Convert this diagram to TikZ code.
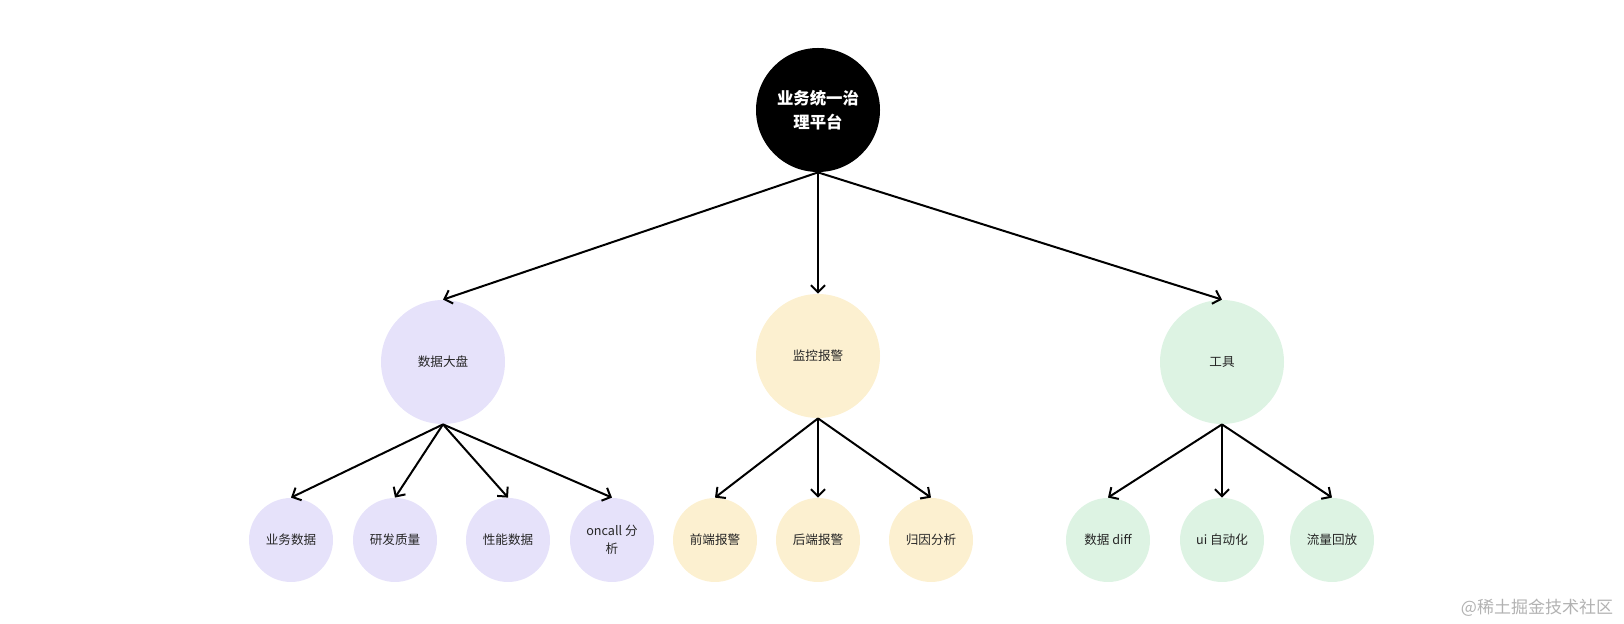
\documentclass[tikz,border=0pt]{standalone}
\usepackage{fontspec}
\setmainfont{Noto Sans CJK SC}
\usetikzlibrary{arrows.meta}
\definecolor{datafill}{RGB}{230,226,250}
\definecolor{alarmfill}{RGB}{252,240,208}
\definecolor{toolfill}{RGB}{221,243,227}
\tikzset{every node/.style={circle, inner sep = 0pt, align=center, text=black!85, font=\fontsize{6.3}{9}\selectfont}}
\tikzset{big/.style={minimum size=62pt}, small/.style={minimum size=42pt}}
\tikzset{link/.style={line width=1pt, -{Straight Barb[length=3.5pt,width=7pt]}}}

\begin{document}
\begin{tikzpicture}[x=0.5pt, y=-0.5pt]
\useasboundingbox (0,0) rectangle (1624,624);
\node[big, fill=black, text=white, font=\bfseries\fontsize{8.2}{12}\selectfont] (root) at (818,110) {业务统一治\\理平台};
\node[big, fill=datafill] (data) at (443,362) {数据大盘};
\node[big, fill=alarmfill] (alarm) at (818,356) {监控报警};
\node[big, fill=toolfill] (tool) at (1222,362) {工具};
\draw[link] (root.south) -- (data.north);
\draw[link] (root.south) -- (alarm.north);
\draw[link] (root.south) -- (tool.north);
\foreach \x/\n/\t in {291/d1/业务数据, 395/d2/研发质量, 508/d3/性能数据, 612/d4/{oncall 分\\析}} {
    \node[small, fill=datafill] (\n) at (\x,540) {\t};
    \draw[link] (data.south) -- (\n.north);
}
\foreach \x/\n/\t in {715/a1/前端报警, 818/a2/后端报警, 931/a3/归因分析} {
    \node[small, fill=alarmfill] (\n) at (\x,540) {\t};
    \draw[link] (alarm.south) -- (\n.north);
}
\foreach \x/\n/\t in {1108/t1/数据 diff, 1222/t2/ui 自动化, 1332/t3/流量回放} {
    \node[small, fill=toolfill] (\n) at (\x,540) {\t};
    \draw[link] (tool.south) -- (\n.north);
}
\node[rectangle, text=black!30, font=\fontsize{8.5}{10}\selectfont] (wmark) at (1537,608) {@稀土掘金技术社区};
\end{tikzpicture}
\end{document}
